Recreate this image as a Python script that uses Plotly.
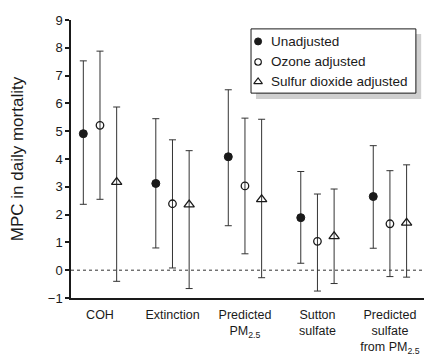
import plotly.graph_objects as go

categories = ["COH", "Extinction", "Predicted<br>PM<sub>2.5</sub>", "Sutton<br>sulfate",
              "Predicted<br>sulfate<br>from PM<sub>2.5</sub>"]
series_names = ["Unadjusted", "Ozone adjusted", "Sulfur dioxide adjusted"]

unadj_est = [4.91, 3.12, 4.08, 1.89, 2.65]
unadj_lo = [2.37, 0.80, 1.60, 0.25, 0.79]
unadj_hi = [7.53, 5.45, 6.49, 3.55, 4.48]

ozone_est = [5.21, 2.39, 3.03, 1.04, 1.67]
ozone_lo = [2.55, 0.08, 0.59, -0.75, -0.23]
ozone_hi = [7.88, 4.69, 5.47, 2.74, 3.58]

so2_est = [3.17, 2.36, 2.55, 1.22, 1.70]
so2_lo = [-0.40, -0.66, -0.27, -0.48, -0.25]
so2_hi = [5.87, 4.30, 5.43, 2.92, 3.79]

y_ticks = [-1, 0, 1, 2, 3, 4, 5, 6, 7, 8, 9]

FONT = "Liberation Sans, Arial, sans-serif"
INK = "#1a1a1a"
offsets = [-0.23, 0.0, 0.23]
markers = [
    dict(symbol="circle", size=8, color=INK, line=dict(color=INK, width=1)),
    dict(symbol="circle-open", size=7.5, color=INK, line=dict(color=INK, width=1.3)),
    dict(symbol="triangle-up-open", size=9, color=INK, line=dict(color=INK, width=1.3)),
]
legend_markers = [
    dict(symbol="circle", size=7, color=INK, line=dict(color=INK, width=1)),
    dict(symbol="circle-open", size=6.5, color=INK, line=dict(color=INK, width=1.2)),
    dict(symbol="triangle-up-open", size=7.5, color=INK, line=dict(color=INK, width=1.2)),
]
data = [(unadj_est, unadj_lo, unadj_hi), (ozone_est, ozone_lo, ozone_hi), (so2_est, so2_lo, so2_hi)]

fig = go.Figure()
for name, (est, lo, hi), off, mk in zip(series_names, data, offsets, markers):
    xs = [i + off for i in range(len(categories))]
    fig.add_trace(go.Scatter(
        x=xs, y=est, mode="markers", name=name, marker=mk, showlegend=False,
        error_y=dict(type="data", symmetric=False,
                     array=[h - e for h, e in zip(hi, est)],
                     arrayminus=[e - l for e, l in zip(est, lo)],
                     color="#333333", thickness=1, width=3.5),
    ))

# dotted zero line
fig.add_hline(y=0, line=dict(color="#333333", width=1, dash="dot"))

# manual legend (box, shadow, symbols, labels) in paper coordinates
LEG_BOX = (0.510, 0.977, 0.737, 0.968)
LEG_SHADOW = (0.524, 0.992, 0.716, 0.950)
LEG_SYM_X = 0.530
LEG_TXT_X = 0.560
LEG_ROWS = [0.923, 0.849, 0.778]

fig.add_shape(type="rect", xref="paper", yref="paper", x0=LEG_SHADOW[0], x1=LEG_SHADOW[1],
              y0=LEG_SHADOW[2], y1=LEG_SHADOW[3], fillcolor="#cfcfcf", line=dict(width=0), layer="below")
fig.add_shape(type="rect", xref="paper", yref="paper", x0=LEG_BOX[0], x1=LEG_BOX[1],
              y0=LEG_BOX[2], y1=LEG_BOX[3], fillcolor="white", line=dict(color=INK, width=1), layer="below")
for name, mk, ry in zip(series_names, legend_markers, LEG_ROWS):
    fig.add_trace(go.Scatter(x=[LEG_SYM_X], y=[ry], mode="markers", marker=mk, xaxis="x2", yaxis="y2",
                             showlegend=False, hoverinfo="skip", cliponaxis=False))
    fig.add_annotation(x=LEG_TXT_X, y=ry, xref="paper", yref="paper", text=name, showarrow=False,
                       xanchor="left", yanchor="middle", font=dict(size=13.5, family=FONT, color=INK))

fig.update_layout(
    width=424, height=356,
    margin=dict(l=71, r=0, t=20, b=58, autoexpand=False),
    paper_bgcolor="white", plot_bgcolor="white",
    font=dict(family=FONT, size=13, color=INK),
    showlegend=False,
    xaxis=dict(range=[-0.4, 4.47], tickvals=list(range(len(categories))), ticktext=categories,
               showgrid=False, zeroline=False, showline=True, linecolor=INK, linewidth=1.5,
               ticks="", tickfont=dict(size=12.5, family=FONT), ticklabelstandoff=4, automargin=False),
    yaxis=dict(range=[-1, 9], tickvals=y_ticks,
               ticktext=[("\u2212" + str(-v)) if v < 0 else str(v) for v in y_ticks],
               showgrid=False, zeroline=False, showline=True, linecolor=INK, linewidth=1.5,
               ticks="outside", ticklen=4, tickcolor=INK, tickwidth=1.5, automargin=False,
               tickfont=dict(size=13, family=FONT), ticklabelstandoff=0,
               title=dict(text="MPC in daily mortality", font=dict(size=17, family=FONT), standoff=20)),
    xaxis2=dict(overlaying="x", range=[0, 1], visible=False, fixedrange=True),
    yaxis2=dict(overlaying="y", range=[0, 1], visible=False, fixedrange=True),
)

fig.write_html("out.html", config={"displayModeBar": False},
               post_script="document.body.style.margin='0';document.body.style.overflow='hidden';")
